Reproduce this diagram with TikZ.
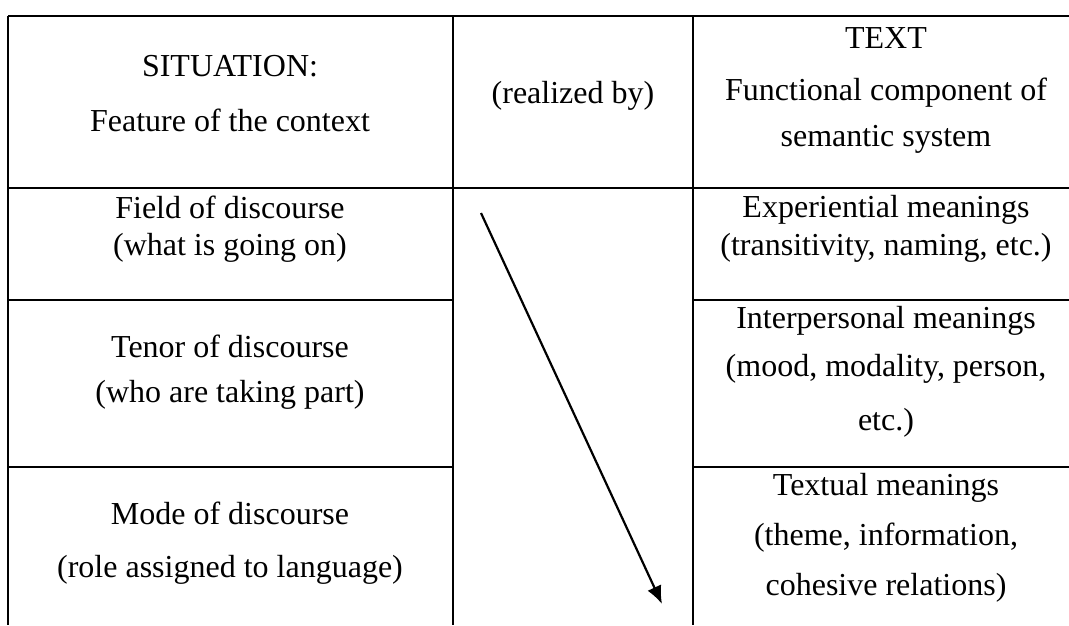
\documentclass[tikz,border=0pt]{standalone}
\usepackage{fontspec}
\setmainfont{Liberation Serif}
\usetikzlibrary{arrows.meta}
\begin{document}
\begin{tikzpicture}[x=1pt,y=-1pt,
  rule/.style={line width=2.2pt,black},
  cell/.style={anchor=base,inner sep=0pt,font=\fontsize{32}{38}\selectfont},
  flow/.style={line width=2.2pt,-{Latex[length=18pt,width=15pt]}}]
\useasboundingbox (0,0) rectangle (1069,625);

% grid of the table
\draw[rule] (8,16) -- (1069,16);
\draw[rule] (8,188) -- (1069,188);
\draw[rule] (8,300) -- (453,300);
\draw[rule] (693,300) -- (1069,300);
\draw[rule] (8,467) -- (453,467);
\draw[rule] (693,467) -- (1069,467);
\draw[rule] (8,16) -- (8,625);
\draw[rule] (453,16) -- (453,625);
\draw[rule] (693,16) -- (693,625);

% header row
\node[cell] (sitA) at (230,76) {SITUATION:};
\node[cell] (sitB) at (230,131) {Feature of the context};
\node[cell] (real) at (573,103) {(realized by)};
\node[cell] (txtA) at (886,48) {TEXT};
\node[cell] (txtB) at (886,100) {Functional component of};
\node[cell] (txtC) at (886,146) {semantic system};

% situation column
\node[cell] (fieldA) at (230,218) {Field of discourse};
\node[cell] (fieldB) at (230,255) {(what is going on)};
\node[cell] (tenorA) at (230,357) {Tenor of discourse};
\node[cell] (tenorB) at (230,402) {(who are taking part)};
\node[cell] (modeA) at (230,524) {Mode of discourse};
\node[cell] (modeB) at (230,577) {(role assigned to language)};

% text column
\node[cell] (expA) at (886,217) {Experiential meanings};
\node[cell] (expB) at (886,255) {(transitivity, naming, etc.)};
\node[cell] (intA) at (886,328) {Interpersonal meanings};
\node[cell] (intB) at (886,376) {(mood, modality, person,};
\node[cell] (intC) at (886,430) {etc.)};
\node[cell] (texA) at (886,495) {Textual meanings};
\node[cell] (texB) at (886,545) {(theme, information,};
\node[cell] (texC) at (886,595) {cohesive relations)};

% realization arrow
\coordinate (arrS) at (481,213);
\coordinate (arrE) at (662,604);
\draw[flow] (arrS) -- (arrE);
\end{tikzpicture}
\end{document}
